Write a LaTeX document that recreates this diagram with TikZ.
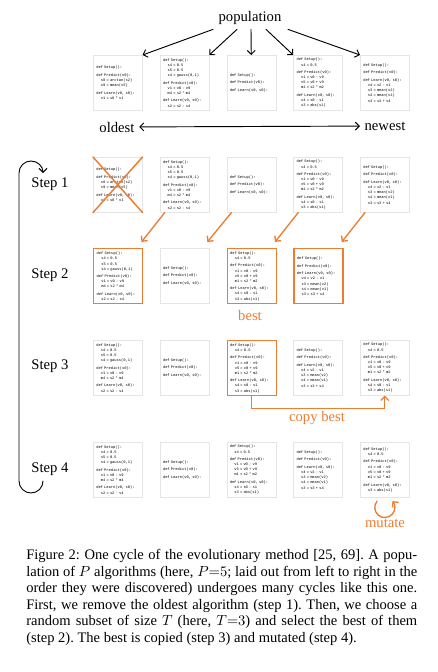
\documentclass[tikz,border=0pt]{standalone}
\usepackage{fontspec}
\setmainfont{Liberation Serif}
\setmonofont{Liberation Mono}
\usepackage{tikz}
\usetikzlibrary{arrows.meta}
\usepackage{xcolor}
\definecolor{bestorange}{RGB}{237,125,49}
\newcommand{\codefont}{\ttfamily\fontsize{2.8}{3.9}\selectfont}
\newcommand{\ind}{\hspace*{3.4pt}}
\newcommand{\algA}{def Setup():\\[1.8pt]
def Predict(v0):\\
\ind s8 = arctan(s2)\\
\ind s9 = mean(v5)\\[1.8pt]
def Learn(v0, s0):\\
\ind v1 = s8 * v1}
\newcommand{\algB}{def Setup():\\
\ind s4 = 0.5\\
\ind s5 = 0.5\\
\ind s4 = gauss(0,1)\\[1.6pt]
def Predict(v0):\\
\ind v1 = v0 - v9\\
\ind m4 = s2 * m4\\[1.6pt]
def Learn(v0, s0):\\
\ind s2 = s2 - s4}
\newcommand{\algC}{def Setup():\\[1.8pt]
def Predict(v0):\\[1.8pt]
def Learn(v0, s0):}
\newcommand{\algD}{def Setup():\\
\ind s4 = 0.5\\[1.6pt]
def Predict(v0):\\
\ind v1 = v0 - v9\\
\ind v5 = v0 + v9\\
\ind m1 = s2 * m2\\[1.6pt]
def Learn(v0, s0):\\
\ind s4 = s0 - s1\\
\ind s3 = abs(s1)}
\newcommand{\algE}{def Setup():\\[1.8pt]
def Predict(v0):\\[1.8pt]
def Learn(v0, s0):\\
\ind v4 = v2 - v1\\
\ind s3 = mean(v2)\\
\ind s4 = mean(v1)\\
\ind s3 = s3 + s4}
\newcommand{\algM}{def Setup():\\
\ind s4 = 0.5\\[1.8pt]
def Predict(v0):\\
\ind v1 = v0 - v9\\
\ind v5 = v0 + v9\\
\ind m1 = s2 * m2\\[1.8pt]
def Learn(v0, s0):\\
\ind s3 = abs(s1)}

\begin{document}
\begin{tikzpicture}[x=0.75pt,y=-0.75pt,>={Straight Barb[length=3pt,width=6pt]},line cap=round,
  codebox/.style={draw=black!10,line width=0.4pt,anchor=north west,inner xsep=2.25pt,inner ysep=0pt,
    text width=32.25pt,minimum height=41.25pt,align=left,font=\codefont},
  pick/.style={draw=bestorange,line width=1.1pt},
  bigtext/.style={font=\fontsize{11}{13}\selectfont},
  orangearrow/.style={->,draw=bestorange,line width=1pt},
  blackarrow/.style={line width=0.7pt}]
\useasboundingbox (0,0) rectangle (438,672);
% population
\node[bigtext] (pop) at (250,18) {population};
\node[codebox] (p1) at (93,55) {\algA};
\node[codebox] (p2) at (159.75,55) {\algB};
\node[codebox] (p3) at (226.5,55) {\algC};
\node[codebox] (p4) at (293.25,55) {\algD};
\node[codebox] (p5) at (360,55) {\algE};
\draw[blackarrow,->] ([xshift=-27.75pt]pop.south) -- (p1.north east);
\draw[blackarrow,->] ([xshift=-9.75pt]pop.south) -- (p2.north east);
\draw[blackarrow,->] ([xshift=0.75pt]pop.south) -- (p3.north);
\draw[blackarrow,->] ([xshift=12pt]pop.south) -- (p4.north west);
\draw[blackarrow,->] ([xshift=28.5pt]pop.south) -- (p5.north west);
\node[bigtext] (old) at (117,127) {oldest};
\node[bigtext] (new) at (385,126) {newest};
\draw[blackarrow,<->] (old) -- (new);
% step 1
\node[bigtext] (st1) at (50,184) {Step 1};
\node[codebox] (a1) at (93,157) {\algA};
\node[codebox] (a2) at (159.75,157) {\algB};
\node[codebox] (a3) at (226.5,157) {\algC};
\node[codebox] (a4) at (293.25,157) {\algD};
\node[codebox] (a5) at (360,157) {\algE};
\draw[bestorange,line width=1.1pt] (a1.north west) -- (a1.south east) (a1.north east) -- (a1.south west);
% step 2
\node[bigtext] (st2) at (50,275) {Step 2};
\node[codebox,pick] (b1) at (93,248) {\algB};
\node[codebox] (b2) at (159.75,248) {\algC};
\node[codebox,pick] (b3) at (226.5,248) {\algD};
\node[codebox,pick] (b4) at (293.25,248) {\algE};
\draw[orangearrow] ([xshift=3.75pt]a2.south west) -- ([shift={(-1.5pt,4.5pt)}]b1.north east);
\draw[orangearrow] ([xshift=3.75pt]a3.south west) -- ([shift={(-1.5pt,4.5pt)}]b2.north east);
\draw[orangearrow] ([xshift=3.75pt]a4.south west) -- ([shift={(-1.5pt,4.5pt)}]b3.north east);
\draw[orangearrow] ([xshift=3.75pt]a5.south west) -- ([shift={(-1.5pt,4.5pt)}]b4.north east);
\node[bigtext,text=bestorange] (best) at (250,315) {best};
% step 3
\node[bigtext] (st3) at (50,366) {Step 3};
\node[codebox] (c1) at (93,340) {\algB};
\node[codebox] (c2) at (159.75,340) {\algC};
\node[codebox,pick] (c3) at (226.5,340) {\algD};
\node[codebox] (c4) at (293.25,340) {\algE};
\node[codebox] (c5) at (360,340) {\algD};
\draw[orangearrow] (c3.south) -- ([yshift=-9pt]c3.south) -| (c5.south);
\node[bigtext,text=bestorange] (copy) at (317,418) {copy best};
% step 4
\node[bigtext] (st4) at (50,469) {Step 4};
\node[codebox] (d1) at (93,442) {\algB};
\node[codebox] (d2) at (159.75,442) {\algC};
\node[codebox] (d3) at (226.5,442) {\algD};
\node[codebox] (d4) at (293.25,442) {\algE};
\node[codebox] (d5) at (360,442) {\algM};
\coordinate (mutc) at ([yshift=-7.5pt]d5.south);
\draw[orangearrow] ([shift={(140:7.5pt)}]mutc) arc[start angle=140,end angle=400,radius=7.5pt];
\node[bigtext,text=bestorange] (mut) at (385,523) {mutate};
% loop back to step 1
\coordinate (loopstart) at (43,481);
\coordinate (looptop) at (19,173);
\draw[blackarrow,->] (loopstart) arc[start angle=0,end angle=-180,radius=9pt] -- (looptop)
  arc[start angle=180,end angle=0,radius=9pt];
% caption
\node[anchor=north west,inner sep=0pt,text width=293.25pt,align=justify,font=\fontsize{10.9}{12.4}\selectfont\frenchspacing] (caption) at (26,549)
{Figure 2: One cycle of the evolutionary method [25, 69]. A popu-\linebreak lation of $P$ algorithms (here, $P{=}5$; laid out from left to right in the\linebreak order they were discovered) undergoes many cycles like this one.\linebreak First, we remove the oldest algorithm (step 1). Then, we choose a\linebreak random subset of size $T$ (here, $T{=}3$) and select the best of them\linebreak (step 2). The best is copied (step 3) and mutated (step 4).};
\end{tikzpicture}
\end{document}
